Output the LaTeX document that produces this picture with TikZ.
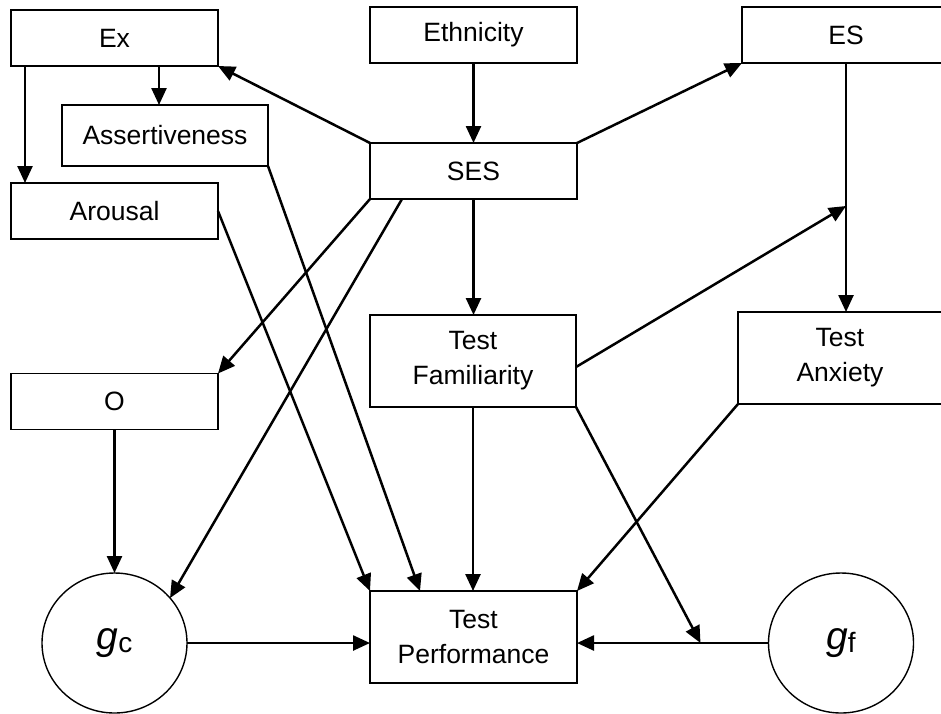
\documentclass[tikz,border=0pt]{standalone}
\usepackage{fontspec}
\setmainfont{Liberation Sans}
\usetikzlibrary{arrows.meta,calc,shapes.geometric}
\begin{document}
\begin{tikzpicture}[x=1pt,y=-1pt,
  box/.style={draw, line width=1.8pt, minimum width=207pt, minimum height=56pt,
    inner sep=0pt, outer sep=0pt, align=center,
    font=\fontsize{26.5}{35}\selectfont},
  tallbox/.style={box, minimum height=92pt},
  latent/.style={draw, ellipse, line width=1.4pt, minimum width=145pt,
    minimum height=140pt, inner sep=0pt, outer sep=0pt},
  path/.style={line width=2.5pt, -{Triangle[length=17pt,width=15pt]}}]

\useasboundingbox (0,0) rectangle (941,713);

% observed variables
\node[box] (Ex) at (114.5,38) {Ex};
\node[box, minimum width=206pt, minimum height=61pt] (As) at (165,135.5) {Assertiveness};
\node[box] (Ar) at (114.5,211) {Arousal};
\node[box] (Eth) at (473.5,35) {Ethnicity};
\node[box, minimum width=208pt] (ES) at (846,35) {ES};
\node[box] (SES) at (473.5,171) {SES};
\node[tallbox, minimum width=206pt] (TF) at (473,361) {Test\\Familiarity};
\node[tallbox, minimum width=204pt] (TA) at (840,358) {Test\\Anxiety};
\node[box] (O) at (114.5,401.5) {O};
\node[tallbox] (TP) at (473.5,637) {Test\\Performance};

% latent abilities
\node[latent] (gc) at (114.5,643)
  {{\fontsize{39}{39}\selectfont\itshape g}\raisebox{-3pt}{\fontsize{28}{28}\selectfont c}};
\node[latent] (gf) at (841,643)
  {{\fontsize{39}{39}\selectfont\itshape g}\raisebox{-3pt}{\fontsize{28}{28}\selectfont f}};

% helper points
\coordinate (exA) at ($(Ex.south west)+(148,0)$);
\coordinate (exB) at ($(Ex.south west)+(14,0)$);
\coordinate (join) at ($(gf.west)+(-68,0)$);
\coordinate (esJ) at ($(ES.south)+(0,143)$);

% paths
\draw[path] (SES.north west) -- (Ex.south east);
\draw[path] (SES.north east) -- (ES.south west);
\draw[path] (Eth.south) -- (SES.north);
\draw[path] (exA) -- (exA |- As.north);
\draw[path] (exB) -- (exB |- Ar.north);
\draw[path] (SES.south) -- (SES.south |- TF.north);
\draw[path] (SES.south west) -- (O.north east);
\draw[path] ($(SES.south west)+(32,0)$) -- (gc.39);
\draw[path] (As.south east) -- ($(TP.north west)+(50,0)$);
\draw[path] (Ar.east) -- (TP.north west);
\draw[path] (TF.south) -- (TF.south |- TP.north);
\draw[path] (TA.south west) -- (TP.north east);
\draw[path] (TF.south east) -- (join);
\draw[path] (gc.east) -- (gc.east -| TP.west);
\draw[path] (gf.west) -- (gf.west -| TP.east);
\draw[path] (O.south) -- (gc.north);
\draw[path] ($(TF.east)+(0,6)$) -- (esJ);
\draw[path] (ES.south) -- (ES.south |- TA.north);

\end{tikzpicture}
\end{document}
